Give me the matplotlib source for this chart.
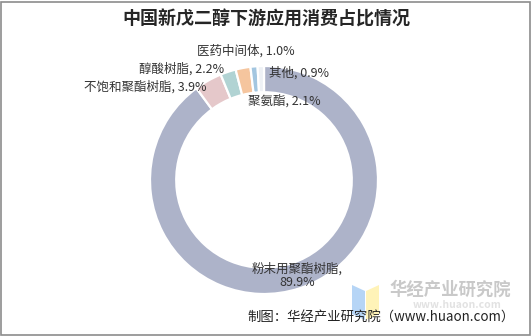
import matplotlib
matplotlib.use("Agg")
import matplotlib.pyplot as plt
from matplotlib.patches import Rectangle, Polygon

plt.rcParams['font.family'] = ['Noto Sans CJK SC', 'DejaVu Sans']

# Downstream consumption shares of neopentyl glycol in China
categories = ['粉末用聚酯树脂', '不饱和聚酯树脂', '醇酸树脂', '聚氨酯', '医药中间体', '其他']
shares = [89.9, 3.9, 2.2, 2.1, 1.0, 0.9]
colors = ['#ADB3C9', '#E5C8CA', '#B1D3D3', '#F5C59E', '#A3C6E0', '#EEF1F5']

title = '中国新戊二醇下游应用消费占比情况'
source = '制图：华经产业研究院（www.huaon.com）'

W, H = 532, 336
fig = plt.figure(figsize=(W / 100, H / 100), dpi=100)

# Donut axes: centre (264, 180) px, radius 114 px
cx, cy, r = 264, 180, 114
ax = fig.add_axes([(cx - r) / W, (H - cy - r) / H, 2 * r / W, 2 * r / H])
ax.pie(shares, colors=colors, startangle=90, counterclock=False, radius=1.0,
       wedgeprops=dict(width=0.23, edgecolor='white', linewidth=1.6))
ax.set_xlim(-1, 1)
ax.set_ylim(-1, 1)
ax.set_aspect('equal')
ax.axis('off')

def lab(i):
    return f'{categories[i]}, {shares[i]:.1f}%'

fs = 9
tc = '#333333'
ax.text(0.29, -0.84, f'{categories[0]},\n{shares[0]:.1f}%', ha='center', va='center',
        fontsize=fs, color=tc, linespacing=1.1)
ax.text(-0.50, 0.82, lab(1), ha='right', va='center', fontsize=fs, color=tc)
ax.text(-0.35, 0.97, lab(2), ha='right', va='center', fontsize=fs, color=tc)
ax.text(-0.14, 0.69, lab(3), ha='left', va='center', fontsize=fs, color=tc)
ax.text(-0.16, 1.13, lab(4), ha='center', va='center', fontsize=fs, color=tc)
ax.text(0.045, 0.94, lab(5), ha='left', va='center', fontsize=fs, color=tc)

# Title
fig.text(266 / W, 1 - 19 / H, title, ha='center', va='center', fontsize=13,
         fontweight='bold', color='#262626')

# Watermark logo
fig.add_artist(Polygon([[352 / W, 1 - 285 / H], [365 / W, 1 - 291 / H],
                        [365 / W, 1 - 320 / H], [352 / W, 1 - 314 / H]],
                       closed=True, facecolor='#B6D5F6', edgecolor='none',
                       transform=fig.transFigure))
fig.add_artist(Polygon([[366 / W, 1 - 291 / H], [379 / W, 1 - 285 / H],
                        [379 / W, 1 - 314 / H], [366 / W, 1 - 320 / H]],
                       closed=True, facecolor='#FFF3B8', edgecolor='none',
                       transform=fig.transFigure))
fig.text(450 / W, 1 - 290 / H, '华经产业研究院', ha='center', va='center',
         fontsize=12.5, fontweight='bold', color='#C9C9C9')
fig.text(457 / W, 1 - 305.5 / H, 'www.huaon.com', ha='center', va='center',
         fontsize=7.5, fontweight='bold', color='#E2E2E2')

# Source note
fig.text(515 / W, 1 - 318 / H, source, ha='right', va='center', fontsize=9.6,
         color='#222222')

# Frame
fig.add_artist(Rectangle((1 / W, 1 / H), (W - 3) / W, (H - 3) / H,
                         transform=fig.transFigure, fill=False,
                         edgecolor='#8C8C8C', linewidth=1.2))

fig.savefig('out.png', dpi=100)
